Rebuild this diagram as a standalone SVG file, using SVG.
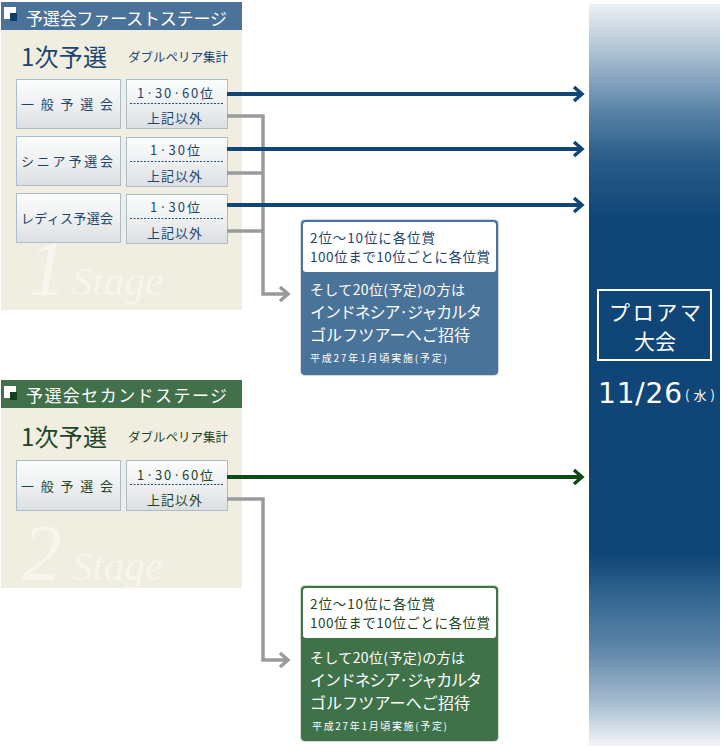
<svg xmlns="http://www.w3.org/2000/svg" width="721" height="750" viewBox="0 0 721 750">
<defs>
<linearGradient id="btn" x1="0" y1="0" x2="0" y2="1">
<stop offset="0" stop-color="#fbfcfc"/><stop offset="0.5" stop-color="#eef0f1"/><stop offset="1" stop-color="#dcdfe2"/>
</linearGradient>
<linearGradient id="bar" gradientUnits="userSpaceOnUse" x1="0" y1="4" x2="0" y2="746">
<stop offset="0" stop-color="#eef1f4"/>
<stop offset="0.075" stop-color="#a3bace"/>
<stop offset="0.143" stop-color="#5a84a8"/>
<stop offset="0.21" stop-color="#285b88"/>
<stop offset="0.29" stop-color="#0f4677"/>
<stop offset="0.74" stop-color="#0f4677"/>
<stop offset="0.80" stop-color="#336690"/>
<stop offset="0.87" stop-color="#5f87a9"/>
<stop offset="0.94" stop-color="#a4bbcf"/>
<stop offset="1" stop-color="#f3f5f7"/>
</linearGradient>
<marker id="chevB" markerUnits="userSpaceOnUse" markerWidth="14" markerHeight="20" refX="10" refY="8" orient="auto" viewBox="0 0 14 16">
<path d="M2,1 L10,8 L2,15" fill="none" stroke="#114575" stroke-width="3.5"/>
</marker>
<marker id="chevG" markerUnits="userSpaceOnUse" markerWidth="14" markerHeight="20" refX="10" refY="8" orient="auto" viewBox="0 0 14 16">
<path d="M2,1 L10,8 L2,15" fill="none" stroke="#0d4a17" stroke-width="3.5"/>
</marker>
<marker id="chevY" markerUnits="userSpaceOnUse" markerWidth="14" markerHeight="20" refX="10" refY="8" orient="auto" viewBox="0 0 14 16">
<path d="M2,1 L10,8 L2,15" fill="none" stroke="#9a9a9a" stroke-width="3.5"/>
</marker>
</defs>
<style>
text{font-family:"Noto Sans CJK JP","Noto Sans",sans-serif}
.panel{fill:#f0eee0}
.btn{fill:url(#btn);stroke:#abbccc;stroke-width:1}
.dot{stroke:#1f4f7d;stroke-width:1;stroke-dasharray:2,1.5}
.hd{fill:#fff;font-size:17px}
.t1{fill:#1b4470}
.t2{fill:#1c4526}
.lbl{font-size:13px}
.big{font-size:24px}
.sub{font-size:12.5px}
.wm{font-family:"Liberation Serif","DejaVu Serif",serif;font-style:italic;fill:#f7f5ed}
.date{font-family:"DejaVu Sans","Noto Sans",sans-serif;font-size:28px}
.gray{fill:none;stroke:#9a9a9a;stroke-width:3.5}
.wt{fill:#fff}
</style>

<!-- Right bar -->
<g id="proam">
<rect x="589" y="4" width="131" height="742" fill="url(#bar)"/>
<rect x="598" y="290" width="113" height="70" fill="none" stroke="#fff" stroke-width="2"/>
<text x="655" y="320" class="wt" font-size="21" text-anchor="middle" textLength="92">プロアマ</text>
<text x="655" y="349" class="wt" font-size="21" text-anchor="middle">大会</text>
<text x="598" y="403" class="wt date" textLength="84">11/26</text>
<text x="685" y="400" class="wt" font-size="13" textLength="30">(水)</text>
</g>

<!-- Stage 1 -->
<g id="stage1">
<rect x="1" y="30" width="241" height="280" class="panel"/>
<text x="27" y="295" class="wm" font-size="80">1</text>
<text x="72" y="295" class="wm" font-size="41">Stage</text>
<rect x="1" y="2" width="241" height="28" fill="#4b7399"/>
<rect x="4" y="7" width="12" height="12" fill="#fff"/>
<rect x="10" y="13" width="7" height="8" fill="#0e3c66"/>
<text x="26" y="25" class="hd" textLength="201">予選会ファーストステージ</text>
<text x="21" y="66" class="t1 big" textLength="86">1次予選</text>
<text x="128" y="62" class="t1 sub" textLength="100">ダブルペリア集計</text>
</g>
<g id="s1-general">
<rect x="16.5" y="79.5" width="104" height="49" class="btn"/>
<text x="21" y="109" class="t1 lbl" textLength="92" lengthAdjust="spacing">一般予選会</text>
<rect x="126.5" y="79.5" width="101" height="49" class="btn"/>
<text x="137" y="98" class="t1 lbl" textLength="76">1·30·60位</text>
<line x1="130" y1="103.5" x2="224" y2="103.5" class="dot"/>
<text x="147" y="123" class="t1 lbl" textLength="55">上記以外</text>
</g>
<g id="s1-senior">
<rect x="16.5" y="136.5" width="104" height="49" class="btn"/>
<text x="21" y="166" class="t1 lbl" textLength="92" lengthAdjust="spacing">シニア予選会</text>
<rect x="126.5" y="137.5" width="101" height="49" class="btn"/>
<text x="150" y="155" class="t1 lbl" textLength="50">1·30位</text>
<line x1="130" y1="161.5" x2="224" y2="161.5" class="dot"/>
<text x="147" y="181" class="t1 lbl" textLength="55">上記以外</text>
</g>
<g id="s1-ladies">
<rect x="16.5" y="193.5" width="104" height="49" class="btn"/>
<text x="21" y="223" class="t1 lbl" textLength="92" lengthAdjust="spacing">レディス予選会</text>
<rect x="126.5" y="194.5" width="101" height="49" class="btn"/>
<text x="150" y="212" class="t1 lbl" textLength="50">1·30位</text>
<line x1="130" y1="218.5" x2="224" y2="218.5" class="dot"/>
<text x="147" y="238" class="t1 lbl" textLength="55">上記以外</text>
</g>

<!-- Stage 2 -->
<g id="stage2">
<rect x="1" y="408" width="241" height="180" class="panel"/>
<text x="22" y="580" class="wm" font-size="80">2</text>
<text x="72" y="580" class="wm" font-size="41">Stage</text>
<rect x="1" y="380" width="241" height="28" fill="#42704b"/>
<rect x="4" y="386" width="12" height="12" fill="#fff"/>
<rect x="10" y="392" width="7" height="8" fill="#143f1d"/>
<text x="26" y="402" class="hd" textLength="201">予選会セカンドステージ</text>
<text x="21" y="446" class="t2 big" textLength="86">1次予選</text>
<text x="128" y="442" class="t2 sub" textLength="100">ダブルペリア集計</text>
</g>
<g id="s2-general">
<rect x="16.5" y="460.5" width="104" height="50" class="btn"/>
<text x="21" y="491" class="t2 lbl" textLength="92" lengthAdjust="spacing">一般予選会</text>
<rect x="126.5" y="460.5" width="101" height="50" class="btn"/>
<text x="137" y="480" class="t2 lbl" textLength="76">1·30·60位</text>
<line x1="130" y1="484.5" x2="224" y2="484.5" class="dot"/>
<text x="147" y="505" class="t2 lbl" textLength="55">上記以外</text>
</g>

<!-- Connectors -->
<g id="connectors">
<path class="gray" d="M227,116 H263 V294 H288" marker-end="url(#chevY)"/>
<path class="gray" d="M227,173 H263"/>
<path class="gray" d="M227,231 H263"/>
<path class="gray" d="M227,499 H263 V660 H288" marker-end="url(#chevY)"/>
<line x1="227" y1="94" x2="582" y2="94" stroke="#114575" stroke-width="4" marker-end="url(#chevB)"/>
<line x1="227" y1="149" x2="582" y2="149" stroke="#114575" stroke-width="4" marker-end="url(#chevB)"/>
<line x1="227" y1="205" x2="582" y2="205" stroke="#114575" stroke-width="4" marker-end="url(#chevB)"/>
<line x1="227" y1="477" x2="582" y2="477" stroke="#0d4a17" stroke-width="4" marker-end="url(#chevG)"/>
</g>

<!-- Callouts -->
<g id="prize1">
<rect x="300.5" y="219.5" width="198" height="156" rx="4" fill="none" stroke="#d3d9df" stroke-width="1"/>
<rect x="301" y="220" width="197" height="155" rx="4" fill="#4a7399"/>
<rect x="303" y="222" width="193" height="50" rx="3" fill="#fff"/>
<text x="310" y="243" class="t1" font-size="13.5" textLength="125">2位～10位に各位賞</text>
<text x="310" y="262" class="t1" font-size="13.5" textLength="180">100位まで10位ごとに各位賞</text>
<text x="310" y="295" class="wt" font-size="14" textLength="155">そして20位(予定)の方は</text>
<text x="310" y="318" class="wt" font-size="16" textLength="172">インドネシア·ジャカルタ</text>
<text x="310" y="341" class="wt" font-size="16" textLength="160">ゴルフツアーへご招待</text>
<text x="310" y="362" class="wt" font-size="10" textLength="137">平成27年1月頃実施(予定)</text>
</g>
<g id="prize2">
<rect x="300.5" y="585.5" width="198" height="156" rx="4" fill="none" stroke="#d3dad4" stroke-width="1"/>
<rect x="301" y="586" width="197" height="155" rx="4" fill="#3f7249"/>
<rect x="303" y="588" width="193" height="50" rx="3" fill="#fff"/>
<text x="310" y="609" class="t2" font-size="13.5" textLength="125">2位～10位に各位賞</text>
<text x="310" y="628" class="t2" font-size="13.5" textLength="180">100位まで10位ごとに各位賞</text>
<text x="310" y="663" class="wt" font-size="14" textLength="155">そして20位(予定)の方は</text>
<text x="310" y="686" class="wt" font-size="16" textLength="172">インドネシア·ジャカルタ</text>
<text x="310" y="709" class="wt" font-size="16" textLength="160">ゴルフツアーへご招待</text>
<text x="312" y="730" class="wt" font-size="10" textLength="135">平成27年1月頃実施(予定)</text>
</g>
</svg>
